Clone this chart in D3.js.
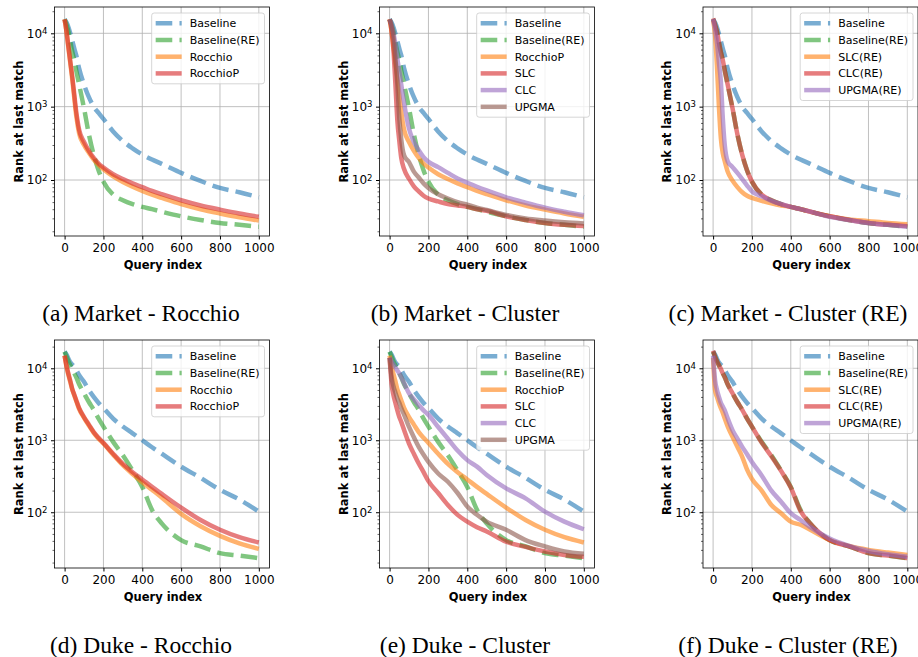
<!DOCTYPE html>
<html>
<head>
<meta charset="utf-8">
<script src="https://cdn.jsdelivr.net/npm/d3@7"></script>
<style>
  body { margin: 0; background: #fff; }
  svg { display: block; }
</style>
</head>
<body>
<script>
var queryIdx = [0, 10, 20, 30, 40, 50, 60, 75, 100, 125, 150, 175, 200, 250, 300, 350, 400, 450, 500, 600, 700, 800, 900, 1000];

// Market
var mktBaseline   = [15500, 14000, 12000, 9800, 7800, 6200, 5000, 3300, 2000, 1350, 1000, 820, 680, 460, 340, 270, 222, 190, 166, 125, 97, 78, 68, 58];
var mktBaselineRE = [15500, 13000, 10500, 7500, 5500, 4300, 3100, 2000, 950, 420, 220, 135, 95, 63, 53, 47, 43, 40, 37, 32, 28.5, 26, 24.5, 23];
var mktRocchio    = [15500, 10300, 6200, 3800, 2300, 1300, 750, 430, 300, 235, 190, 160, 140, 112, 94, 81, 71, 63, 57, 47, 40, 35, 31, 28];
var mktRocchioP   = [15500, 10600, 6500, 4000, 2500, 1450, 850, 480, 330, 250, 200, 168, 148, 120, 103, 90, 80, 71, 64, 53, 45, 39.5, 35, 31.5];
var mktSLC        = [15500, 11000, 5800, 2000, 640, 340, 200, 140, 104, 82, 70, 61, 56, 51, 47, 45, 43, 40, 38, 32, 28.5, 26, 24.5, 23.5];
var mktCLC        = [15500, 13000, 10000, 7000, 4500, 3000, 2000, 1100, 500, 330, 255, 205, 177, 150, 125, 105, 92, 81, 72, 58, 49, 42, 37, 33];
var mktUPGMA      = [15500, 12500, 9000, 4500, 2000, 700, 360, 215, 175, 130, 108, 90, 78, 64, 56, 50, 46, 42, 39, 33.5, 30, 28, 26.5, 25.5];
var mktSLCRE      = [15000, 9500, 3500, 1000, 370, 230, 180, 130, 98, 80, 68, 61, 57, 52, 48, 45, 43, 40, 37, 32, 29, 27.5, 26, 25];
var mktCLCRE      = [16000, 13000, 10500, 7500, 5500, 4300, 3100, 2000, 950, 420, 220, 135, 95, 63, 53, 47, 43, 40, 37, 32, 28.5, 26, 24.5, 23.5];
var mktUPGMARE    = [15500, 11500, 7500, 4000, 2200, 700, 300, 180, 150, 125, 103, 84, 70, 60, 52, 47, 43, 40, 37, 31.5, 28.5, 26, 24.5, 23];

// Duke
var dukeBaseline   = [17000, 15500, 13500, 12000, 11200, 10500, 9500, 8000, 6500, 5000, 4000, 3300, 2800, 2000, 1550, 1250, 1000, 800, 650, 430, 300, 205, 150, 102];
var dukeBaselineRE = [17000, 14500, 12500, 11000, 9800, 8500, 7500, 6000, 4500, 3400, 2650, 2000, 1550, 950, 620, 380, 225, 108, 70, 41, 33.5, 27, 25, 23];
var dukeRocchio    = [15000, 10500, 8000, 6300, 5000, 4200, 3500, 2700, 2050, 1600, 1270, 1050, 900, 630, 450, 340, 262, 205, 160, 95, 64, 47, 37, 31];
var dukeRocchioP   = [15000, 10800, 8300, 6600, 5100, 4300, 3600, 2800, 2100, 1650, 1300, 1080, 920, 650, 470, 360, 285, 225, 180, 116, 78, 57, 45, 38];
var dukeSLC        = [14000, 6200, 4200, 3300, 2600, 2100, 1800, 1380, 900, 650, 475, 360, 270, 185, 126, 92, 74, 62, 54, 39, 33, 28.5, 25.5, 24];
var dukeCLC        = [14000, 12500, 11200, 10200, 9300, 8500, 7500, 6200, 4500, 3700, 3100, 2600, 2250, 1530, 1050, 720, 530, 430, 330, 215, 156, 102, 74, 58];
var dukeUPGMA      = [14000, 7600, 5600, 4600, 3800, 3300, 2800, 2250, 1530, 1100, 810, 630, 500, 345, 265, 185, 120, 92, 74, 57, 41, 33.5, 28.5, 26.5];
var dukeSLCRE      = [14000, 5000, 4000, 3300, 2800, 2400, 2000, 1560, 1120, 810, 590, 390, 290, 200, 126, 97, 74, 67, 57, 41, 34, 30, 27.5, 25.5];
var dukeCLCRE      = [17500, 14500, 12500, 11000, 9800, 8500, 7500, 6000, 4500, 3400, 2650, 2000, 1550, 930, 600, 375, 220, 104, 70, 41, 33.5, 27, 25, 23];
var dukeUPGMARE    = [15000, 6900, 5000, 4000, 3300, 2930, 2600, 2020, 1380, 1050, 810, 640, 500, 325, 200, 140, 97, 78, 62, 43, 34, 29, 26, 24];

var xTicks = [0, 200, 400, 600, 800, 1000];
var yTicks = [100, 1000, 10000];
var captions = ["(a) Market - Rocchio", "(b) Market - Cluster", "(c) Market - Cluster (RE)",
                "(d) Duke - Rocchio", "(e) Duke - Cluster", "(f) Duke - Cluster (RE)"];

var C = {blue: "#1f77b4", orange: "#ff7f0e", green: "#2ca02c", red: "#d62728", purple: "#9467bd", brown: "#8c564b"};

function S(name, vals, color, dashed) { return {name: name, vals: vals, color: color, dashed: !!dashed}; }

var panels = [
  {row: 0, col: 0, series: [S("Baseline", mktBaseline, C.blue, 1), S("Baseline(RE)", mktBaselineRE, C.green, 1),
     S("Rocchio", mktRocchio, C.orange), S("RocchioP", mktRocchioP, C.red)]},
  {row: 0, col: 1, series: [S("Baseline", mktBaseline, C.blue, 1), S("Baseline(RE)", mktBaselineRE, C.green, 1),
     S("RocchioP", mktRocchioP, C.orange), S("SLC", mktSLC, C.red), S("CLC", mktCLC, C.purple), S("UPGMA", mktUPGMA, C.brown)]},
  {row: 0, col: 2, series: [S("Baseline", mktBaseline, C.blue, 1), S("Baseline(RE)", mktBaselineRE, C.green, 1),
     S("SLC(RE)", mktSLCRE, C.orange), S("CLC(RE)", mktCLCRE, C.red), S("UPGMA(RE)", mktUPGMARE, C.purple)]},
  {row: 1, col: 0, series: [S("Baseline", dukeBaseline, C.blue, 1), S("Baseline(RE)", dukeBaselineRE, C.green, 1),
     S("Rocchio", dukeRocchio, C.orange), S("RocchioP", dukeRocchioP, C.red)]},
  {row: 1, col: 1, series: [S("Baseline", dukeBaseline, C.blue, 1), S("Baseline(RE)", dukeBaselineRE, C.green, 1),
     S("RocchioP", dukeRocchioP, C.orange), S("SLC", dukeSLC, C.red), S("CLC", dukeCLC, C.purple), S("UPGMA", dukeUPGMA, C.brown)]},
  {row: 1, col: 2, series: [S("Baseline", dukeBaseline, C.blue, 1), S("Baseline(RE)", dukeBaselineRE, C.green, 1),
     S("SLC(RE)", dukeSLCRE, C.orange), S("CLC(RE)", dukeCLCRE, C.red), S("UPGMA(RE)", dukeUPGMARE, C.purple)]}
];

// layout
var colLeft = [54.5, 379.5, 703];
var rowTop = [7, 340], rowH = [229, 228];
var rowDomain = [[17.24, 22840], [16.8, 24720]];
var capX = [141, 465, 788], capY = [320.5, 652.5];
var W = 215;
var minorTicks = [];
[10, 100, 1000, 10000].forEach(function (d) { for (var k = 2; k <= 9; k++) minorTicks.push(d * k); });

var svg = d3.select("body").append("svg").attr("width", 918).attr("height", 657);
svg.append("rect").attr("width", 918).attr("height", 657).attr("fill", "#fff");

panels.forEach(function (p, pi) {
  var H = rowH[p.row];
  var x = d3.scaleLinear().domain([-52, 1055]).range([0, W]);
  var y = d3.scaleLog().domain(rowDomain[p.row]).range([H, 0]);
  var g = svg.append("g").attr("transform", "translate(" + colLeft[p.col] + "," + rowTop[p.row] + ")");

  // grid
  g.append("g").selectAll("line").data(xTicks).join("line")
    .attr("x1", d => x(d)).attr("x2", d => x(d)).attr("y1", 0).attr("y2", H)
    .attr("stroke", "#b0b0b0").attr("stroke-width", 0.8);
  g.append("g").selectAll("line").data(yTicks).join("line")
    .attr("y1", d => y(d)).attr("y2", d => y(d)).attr("x1", 0).attr("x2", W)
    .attr("stroke", "#b0b0b0").attr("stroke-width", 0.8);

  // lines
  var cid = "clip" + pi;
  g.append("clipPath").attr("id", cid).append("rect").attr("width", W).attr("height", H);
  var line = d3.line().x((d, i) => x(queryIdx[i])).y(d => y(d)).curve(d3.curveMonotoneX);
  g.append("g").attr("clip-path", "url(#" + cid + ")")
    .selectAll("path").data(p.series).join("path")
      .attr("d", s => line(s.vals))
      .attr("fill", "none")
      .attr("stroke", s => s.color)
      .attr("stroke-opacity", 0.6)
      .attr("stroke-width", 4.5)
      .attr("stroke-linejoin", "round")
      .attr("stroke-dasharray", s => s.dashed ? "16.6,7.2" : null);

  // axes
  var xa = g.append("g").attr("transform", "translate(0," + H + ")")
    .call(d3.axisBottom(x).tickValues(xTicks).tickFormat(d3.format("d"))
      .tickSize(3.5).tickPadding(3.5).tickSizeOuter(0));
  xa.select(".domain").remove();
  xa.selectAll("text").attr("font-size", 12).attr("font-family", "DejaVu Sans").attr("fill", "#000");

  var ym = g.append("g").call(d3.axisLeft(y).tickValues(minorTicks.filter(v => v > y.domain()[0] && v < y.domain()[1]))
    .tickSize(2).tickFormat(""));
  ym.select(".domain").remove();
  ym.selectAll("line").attr("stroke-width", 0.6);

  var ya = g.append("g").call(d3.axisLeft(y).tickValues(yTicks).tickSize(3.5).tickPadding(3.5).tickSizeOuter(0));
  ya.select(".domain").remove();
  ya.selectAll("text").attr("font-size", 12).attr("font-family", "DejaVu Sans").attr("fill", "#000")
    .text(null)
    .each(function (d) {
      var t = d3.select(this);
      t.append("tspan").text("10");
      t.append("tspan").attr("dy", "-0.45em").attr("font-size", 8.5).text(Math.round(Math.log10(d)));
    });

  // spines
  g.append("rect").attr("width", W).attr("height", H).attr("fill", "none")
    .attr("stroke", "#000").attr("stroke-width", 0.8);

  // axis labels
  g.append("text").attr("x", W / 2 + 1).attr("y", H + 33)
    .attr("text-anchor", "middle").attr("font-family", "DejaVu Sans").attr("font-weight", "bold")
    .attr("font-size", 11.5).text("Query index");
  g.append("text").attr("transform", "translate(-32," + (H / 2) + ") rotate(-90)")
    .attr("text-anchor", "middle").attr("font-family", "DejaVu Sans").attr("font-weight", "bold")
    .attr("font-size", 11.5).text("Rank at last match");

  // legend
  var lg = g.append("g");
  var box = lg.append("rect");
  var items = lg.selectAll("g").data(p.series).join("g")
    .attr("transform", (s, i) => "translate(0," + (10.3 + i * 16.7) + ")");
  items.append("line").attr("x1", 4).attr("x2", 30)
    .attr("stroke", s => s.color).attr("stroke-opacity", 0.6).attr("stroke-width", 4.5)
    .attr("stroke-dasharray", s => s.dashed ? "16.6,7.2" : null);
  items.append("text").attr("x", 38).attr("dy", "0.35em")
    .attr("font-family", "DejaVu Sans").attr("font-size", 11).text(s => s.name);
  var tw = d3.max(items.selectAll("text").nodes(), n => n.getComputedTextLength());
  var bw = 38 + tw + 5, bh = p.series.length * 16.7 + 4;
  box.attr("width", bw).attr("height", bh).attr("rx", 2.5)
    .attr("fill", "#fff").attr("fill-opacity", 0.8).attr("stroke", "#cccccc").attr("stroke-width", 0.8);
  lg.attr("transform", "translate(" + (W - 5 - bw) + ",6)");

  // caption
  svg.append("text").attr("x", capX[p.col]).attr("y", capY[p.row])
    .attr("text-anchor", "middle").attr("font-family", "Liberation Serif").attr("font-size", 23.5)
    .text(captions[pi]);
});
</script>
</body>
</html>
